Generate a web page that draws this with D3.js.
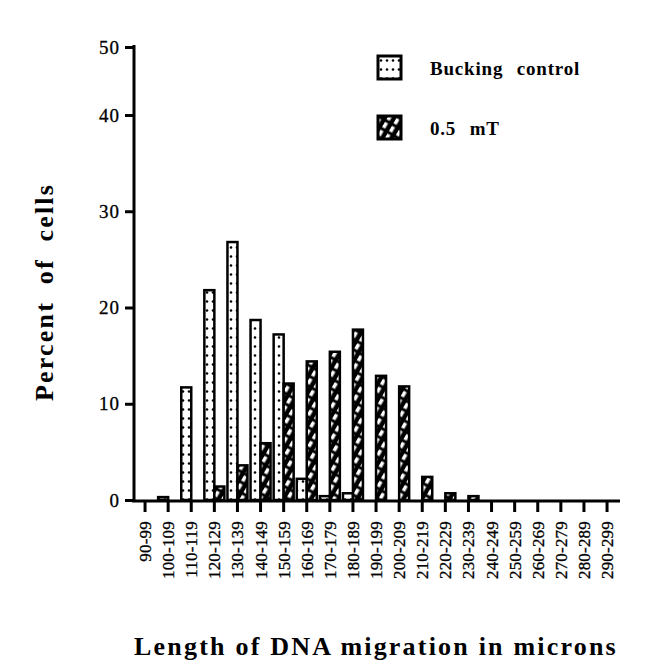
<!DOCTYPE html>
<html>
<head>
<meta charset="utf-8">
<style>
  body { margin: 0; background: #fff; }
  .axis .domain { stroke: #000; stroke-width: 3px; }
  .axis .tick line { stroke: #000; stroke-width: 3px; }
  .y .tick text { font-size: 19px; letter-spacing: 1px; fill: #000; stroke: #000; stroke-width: 0.3px; }
  .x .tick text { font-size: 17px; letter-spacing: 0.2px; fill: #000; stroke: #000; stroke-width: 0.3px; }
</style>
</head>
<body>
<svg width="647" height="667"></svg>
<script src="https://d3js.org/d3.v7.min.js"></script>
<script>
// bins of migration length (microns)
let bins = ["90-99", "100-109", "110-119", "120-129", "130-139", "140-149", "150-159",
  "160-169", "170-179", "180-189", "190-199", "200-209", "210-219", "220-229",
  "230-239", "240-249", "250-259", "260-269", "270-279", "280-289", "290-299"]

// percent of cells
let control = [0, 0.3, 11.7, 21.8, 26.8, 18.7, 17.2, 2.2, 0.4, 0.7, 0, 0, 0, 0, 0, 0, 0, 0, 0, 0, 0]
let treated = [0, 0, 0, 1.4, 3.6, 5.9, 12.1, 14.4, 15.4, 17.7, 12.9, 11.8, 2.4, 0.7, 0.4, 0, 0, 0, 0, 0, 0]

let yTicks = [0, 10, 20, 30, 40, 50]
let seriesNames = ["Bucking control", "0.5 mT"]

let serif = "Liberation Serif, DejaVu Serif, serif"

let svg = d3.select("svg")
  .attr("font-family", serif)

// patterns: dots for control, diagonal hatch for field
let defs = svg.append("defs")
let dots = defs.append("pattern")
  .attr("id", "dots")
  .attr("patternUnits", "userSpaceOnUse")
  .attr("width", 6).attr("height", 9)
dots.append("rect").attr("width", 6).attr("height", 9).style("fill", "#fff")
dots.append("circle").attr("cx", 3).attr("cy", 4.5).attr("r", 1.3).style("fill", "#000")

let hatch = defs.append("pattern")
  .attr("id", "hatch")
  .attr("patternUnits", "userSpaceOnUse")
  .attr("width", 8).attr("height", 9)
  .attr("patternTransform", "rotate(30)")
hatch.append("rect").attr("width", 8).attr("height", 9).style("fill", "#000")
hatch.append("rect").attr("x", 1).attr("y", 1.5).attr("width", 3.5).attr("height", 6).style("fill", "#fff")

let x = d3.scaleBand()
  .domain(bins)
  .range([133.5, 618.6])

// the printed axis is slightly compressed between 40 and 50
let y = d3.scaleLinear()
  .domain([0, 40, 50])
  .range([500, 115, 47])

let barW = 10

// x axis
let xAxis = svg.append("g")
  .attr("class", "x axis")
  .attr("transform", "translate(0,501)")
  .call(d3.axisBottom(x).tickSize(11).tickSizeOuter(0).tickPadding(6))
  .attr("font-family", serif)
xAxis.select(".domain").attr("d", "M132,0H620")
xAxis.selectAll(".tick text")
  .attr("transform", "rotate(-90)")
  .attr("text-anchor", "end")
  .attr("x", -20)
  .attr("y", 0)
  .attr("dy", "0.35em")

// y axis
let yAxis = svg.append("g")
  .attr("class", "y axis")
  .attr("transform", "translate(134,0)")
  .call(d3.axisLeft(y).tickValues(yTicks).tickSize(9).tickSizeOuter(0).tickPadding(5))
  .attr("font-family", serif)
yAxis.select(".domain").attr("d", "M0,45V502")

// bars
let controlData = control.map((v, i) => ({ v: v, bin: bins[i] })).filter(d => d.v > 0)
let treatedData = treated.map((v, i) => ({ v: v, bin: bins[i] })).filter(d => d.v > 0)

svg.append("g")
  .selectAll("rect")
  .data(controlData)
  .join("rect")
  .attr("x", d => x(d.bin) + x.bandwidth() / 2 - barW)
  .attr("y", d => y(d.v))
  .attr("width", barW)
  .attr("height", d => y(0) - y(d.v))
  .style("fill", "url(#dots)")
  .style("stroke", "#000")
  .style("stroke-width", 2.5)

svg.append("g")
  .selectAll("rect")
  .data(treatedData)
  .join("rect")
  .attr("x", d => x(d.bin) + x.bandwidth() / 2)
  .attr("y", d => y(d.v))
  .attr("width", barW)
  .attr("height", d => y(0) - y(d.v))
  .style("fill", "url(#hatch)")
  .style("stroke", "#000")
  .style("stroke-width", 2.5)

// legend
let legend = svg.append("g")
  .selectAll("g")
  .data(seriesNames)
  .join("g")
  .attr("transform", (d, i) => `translate(378,${56 + i * 60})`)
legend.append("rect")
  .attr("width", 23).attr("height", 23)
  .style("fill", (d, i) => i == 0 ? "url(#dots)" : "url(#hatch)")
  .style("stroke", "#000")
  .style("stroke-width", 3)
legend.append("text")
  .attr("x", 52)
  .attr("y", 19)
  .style("font-size", "19px")
  .style("font-weight", "bold")
  .style("letter-spacing", "0.8px")
  .style("word-spacing", "8px")
  .text(d => d)

// axis titles
svg.append("text")
  .attr("transform", "translate(53,292) rotate(-90)")
  .attr("text-anchor", "middle")
  .style("font-size", "26px")
  .style("font-weight", "bold")
  .style("letter-spacing", "2.2px")
  .style("word-spacing", "8px")
  .text("Percent of cells")

svg.append("text")
  .attr("x", 376)
  .attr("y", 655)
  .attr("text-anchor", "middle")
  .style("font-size", "26px")
  .style("font-weight", "bold")
  .style("letter-spacing", "2.2px")
  .text("Length of DNA migration in microns")
</script>
</body>
</html>
